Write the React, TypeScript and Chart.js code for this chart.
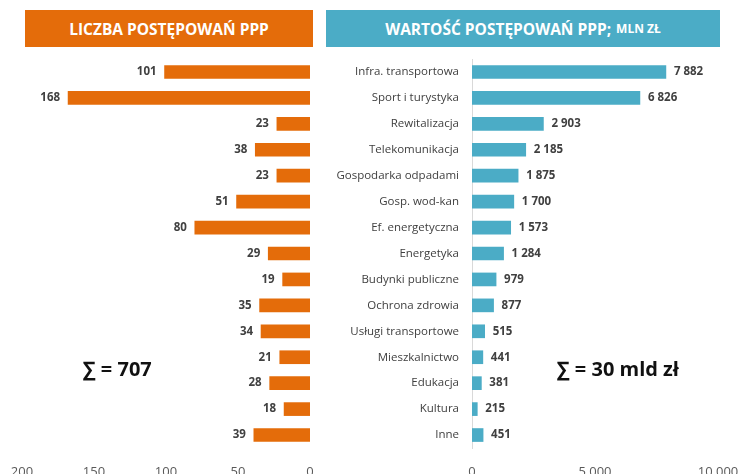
import React, { useEffect, useRef } from "react";
import { Chart, registerables } from "chart.js";

Chart.register(...registerables);

const categories = [
  "Infra. transportowa",
  "Sport i turystyka",
  "Rewitalizacja",
  "Telekomunikacja",
  "Gospodarka odpadami",
  "Gosp. wod-kan",
  "Ef. energetyczna",
  "Energetyka",
  "Budynki publiczne",
  "Ochrona zdrowia",
  "Usługi transportowe",
  "Mieszkalnictwo",
  "Edukacja",
  "Kultura",
  "Inne",
];

const countValues = [101, 168, 23, 38, 23, 51, 80, 29, 19, 35, 34, 21, 28, 18, 39];
const valueValues = [7882, 6826, 2903, 2185, 1875, 1700, 1573, 1284, 979, 877, 515, 441, 381, 215, 451];

const countTicks = [0, 50, 100, 150, 200];
const valueTicks = [0, 5000, 10000];

const leftTitle = "LICZBA POSTĘPOWAŃ PPP";
const rightTitle = "WARTOŚĆ POSTĘPOWAŃ PPP;";
const rightTitleSmall = "MLN ZŁ";
const leftSum = "∑ = 707";
const rightSum = "∑ = 30 mld zł";

const ORANGE = "#E46C0A";
const BLUE = "#4BACC6";
const TEXT = "#404040";
const FONT = "'Open Sans', 'DejaVu Sans', sans-serif";

const fmt = (v: number) => String(v).replace(/\B(?=(\d{3})+(?!\d))/g, " ");

const makeLabelPlugin = (side: "left" | "right") => ({
  id: "valueLabels" + side,
  afterDatasetsDraw(chart: any) {
    const ctx = chart.ctx;
    const meta = chart.getDatasetMeta(0);
    const data = chart.data.datasets[0].data as number[];
    ctx.save();
    ctx.font = `bold 11.5px ${FONT}`;
    ctx.fillStyle = TEXT;
    ctx.textBaseline = "middle";
    meta.data.forEach((el: any, i: number) => {
      const txt = fmt(data[i]);
      if (side === "left") {
        ctx.textAlign = "right";
        ctx.fillText(txt, el.x - 8, el.y);
      } else {
        ctx.textAlign = "left";
        ctx.fillText(txt, el.x + 8, el.y);
      }
    });
    ctx.restore();
  },
});

export default function App() {
  const leftRef = useRef<HTMLCanvasElement | null>(null);
  const rightRef = useRef<HTMLCanvasElement | null>(null);

  useEffect(() => {
    const left = new Chart(leftRef.current as HTMLCanvasElement, {
      type: "bar",
      data: {
        labels: categories,
        datasets: [
          {
            data: countValues,
            backgroundColor: ORANGE,
            borderWidth: 0,
            barThickness: 13,
          },
        ],
      },
      options: {
        indexAxis: "y",
        responsive: false,
        animation: false,
        layout: { padding: { left: 22, right: 20, top: 59, bottom: 0 } },
        plugins: { legend: { display: false }, tooltip: { enabled: false } },
        scales: {
          x: {
            reverse: true,
            min: 0,
            max: 200,
            afterBuildTicks: (scale: any) => {
              scale.ticks = countTicks.map((v) => ({ value: v }));
            },
            afterFit: (scale: any) => {
              scale.height = 26;
              scale.paddingLeft = 0;
              scale.paddingRight = 0;
            },
            grid: { display: false, drawTicks: false },
            border: { display: false },
            ticks: {
              padding: 16,
              maxRotation: 0,
              color: "#595959",
              font: { family: FONT, size: 13 },
              callback: (v: any) => fmt(Number(v)),
            },
          },
          y: {
            display: false,
            grid: { display: false },
          },
        },
      },
      plugins: [makeLabelPlugin("left")],
    } as any);

    const right = new Chart(rightRef.current as HTMLCanvasElement, {
      type: "bar",
      data: {
        labels: categories,
        datasets: [
          {
            data: valueValues,
            backgroundColor: BLUE,
            borderWidth: 0,
            barThickness: 13,
          },
        ],
      },
      options: {
        indexAxis: "y",
        responsive: false,
        animation: false,
        layout: { padding: { left: 0, right: 24, top: 59, bottom: 0 } },
        plugins: { legend: { display: false }, tooltip: { enabled: false } },
        scales: {
          x: {
            min: 0,
            max: 10000,
            afterBuildTicks: (scale: any) => {
              scale.ticks = valueTicks.map((v) => ({ value: v }));
            },
            afterFit: (scale: any) => {
              scale.height = 26;
              scale.paddingLeft = 0;
              scale.paddingRight = 0;
            },
            grid: { display: false, drawTicks: false },
            border: { display: false },
            ticks: {
              padding: 16,
              maxRotation: 0,
              color: "#595959",
              font: { family: FONT, size: 13 },
              callback: (v: any) => fmt(Number(v)),
            },
          },
          y: {
            afterFit: (scale: any) => {
              scale.width = 152;
            },
            grid: { display: false, drawTicks: false },
            border: { display: true, color: "#D9D9D9", width: 1 },
            ticks: {
              padding: 13,
              color: TEXT,
              font: { family: FONT, size: 11.5 },
            },
          },
        },
      },
      plugins: [makeLabelPlugin("right")],
    } as any);

    return () => {
      left.destroy();
      right.destroy();
    };
  }, []);

  const headerBase: React.CSSProperties = {
    position: "absolute",
    top: 10,
    height: 37,
    color: "#FFFFFF",
    fontFamily: FONT,
    fontWeight: 700,
    fontSize: 15.5,
    display: "flex",
    alignItems: "center",
    justifyContent: "center",
    whiteSpace: "nowrap",
  };

  const sumStyle: React.CSSProperties = {
    position: "absolute",
    top: 355,
    fontFamily: FONT,
    fontWeight: 700,
    fontSize: 20,
    color: "#111111",
    whiteSpace: "nowrap",
  };

  return (
    <div
      style={{
        position: "absolute",
        left: 0,
        top: 0,
        width: 742,
        height: 474,
        overflow: "hidden",
        background: "#FFFFFF",
      }}
    >
      <canvas
        ref={leftRef}
        width={330}
        height={474}
        style={{ position: "absolute", left: 0, top: 0, width: 330, height: 474 }}
      />
      <canvas
        ref={rightRef}
        width={422}
        height={474}
        style={{ position: "absolute", left: 320, top: 0, width: 422, height: 474 }}
      />
      <div style={{ ...headerBase, left: 25, width: 288, background: ORANGE }}>{leftTitle}</div>
      <div style={{ ...headerBase, left: 326, width: 394, background: BLUE }}>
        {rightTitle}
        <span style={{ fontSize: 12, marginLeft: 5 }}>{rightTitleSmall}</span>
      </div>
      <div style={{ ...sumStyle, left: 83 }}>{leftSum}</div>
      <div style={{ ...sumStyle, left: 557 }}>{rightSum}</div>
    </div>
  );
}
